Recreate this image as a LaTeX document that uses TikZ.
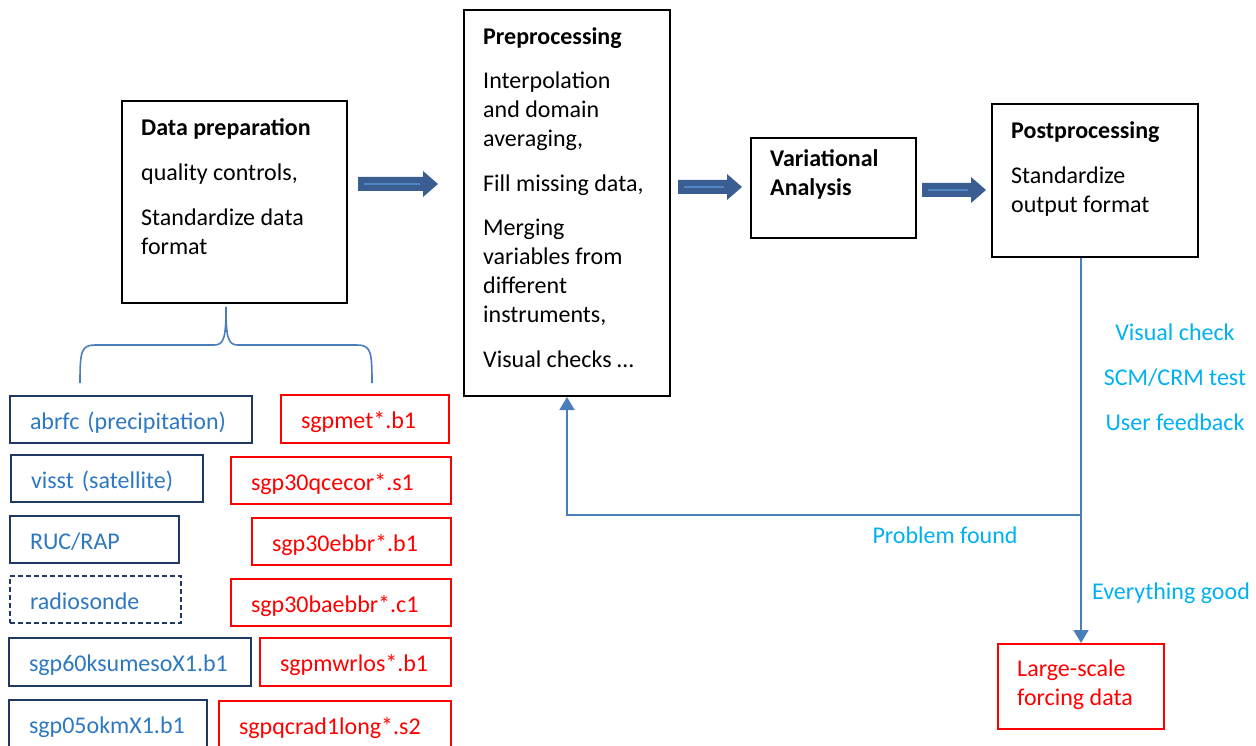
\documentclass[tikz,border=0pt]{standalone}
\usepackage{fontspec}
\setmainfont{Carlito}
\usetikzlibrary{arrows.meta,calc}
\definecolor{navy}{HTML}{203864}
\definecolor{txtblue}{HTML}{2E78C2}
\definecolor{lineblue}{HTML}{4A7EBB}
\definecolor{cyanlbl}{HTML}{00B0F0}
\definecolor{arrdark}{HTML}{3B5E92}
\definecolor{arrlight}{HTML}{5285C4}
\definecolor{myred}{HTML}{FF0000}
\newcommand{\blockarr}[3]{%
  \fill[arrdark] (#1,#3-7) -- (#2-15,#3-7) -- (#2-15,#3-13) -- (#2,#3) -- (#2-15,#3+13) -- (#2-15,#3+7) -- (#1,#3+7) -- cycle;
  \draw[arrlight, line width=2.5pt] (#1+6,#3) -- (#2-18,#3);
}
\begin{document}
\begin{tikzpicture}[x=1pt,y=-1pt,
  font=\fontsize{24}{29}\selectfont,
  mainbox/.style={draw=black, line width=2pt, anchor=north west, inner sep=0pt},
  srcbox/.style={draw=navy, line width=2pt, text=txtblue, anchor=north west, inner ysep=0pt, inner xsep=20pt, align=left, text height=20pt, text depth=1pt},
  armbox/.style={draw=myred, line width=2pt, text=myred, anchor=north west, inner ysep=0pt, inner xsep=20pt, align=left, text height=20pt, text depth=1pt},
  boxtext/.style={anchor=north west, inner sep=0pt, align=left},
  feed/.style={draw=lineblue, line width=1.6pt, -{Triangle[width=15pt,length=13pt]}},
  lbl/.style={text=cyanlbl, inner sep=0pt}]
\useasboundingbox (0,0) rectangle (1256,746);

% main boxes
\node[mainbox, minimum width=225pt, minimum height=202pt] (dp) at (121,100) {};
\node[boxtext] (dpt) at (141,118) {\textbf{Data preparation}\\[16pt]quality controls,\\[16pt]Standardize data\\format};

\node[mainbox, minimum width=206pt, minimum height=386pt] (pre) at (463,9) {};
\node[boxtext] (pret) at (483,27) {\textbf{Preprocessing}\\[15pt]Interpolation\\and domain\\averaging,\\[16pt]Fill missing data,\\[15pt]Merging\\variables from\\different\\instruments,\\[16pt]Visual checks …};

\node[mainbox, minimum width=165pt, minimum height=100pt] (var) at (750,137) {};
\node[boxtext] (vart) at (770,149) {\textbf{Variational}\\\textbf{Analysis}};

\node[mainbox, minimum width=206pt, minimum height=153pt] (post) at (991,103) {};
\node[boxtext] (postt) at (1011,121) {\textbf{Postprocessing}\\[16pt]Standardize\\output format};

\node[mainbox, draw=myred, minimum width=166pt, minimum height=85pt] (large) at (997,643) {};
\node[boxtext, text=myred] (larget) at (1017,660) {Large-scale\\forcing data};

% block arrows
\blockarr{358}{438}{184}
\blockarr{678}{742}{187}
\blockarr{922}{986}{190}

% brace
\draw[lineblue, line width=1.6pt] (80,383) .. controls (80,352) and (81,345) .. (95,345)
  -- (214,345) .. controls (224,345) and (226,338) .. (226,307)
  .. controls (226,338) and (228,345) .. (238,345) -- (357,345)
  .. controls (371,345) and (372,352) .. (372,383);

% source boxes (blue)
\node[srcbox, text width=202pt, minimum height=47pt] (abrfc) at (9,395) {abrfc (precipitation)};
\node[srcbox, text width=152pt, minimum height=47pt] (visst) at (10,454) {visst (satellite)};
\node[srcbox, text width=129pt, minimum height=47pt] (ruc) at (9,515) {RUC/RAP};
\node[srcbox, text width=131pt, minimum height=47pt, dash pattern=on 5pt off 3pt] (sonde) at (9,575) {radiosonde};
\node[srcbox, text width=202pt, minimum height=48pt] (meso) at (8,637) {sgp60ksumesoX1.b1};
\node[srcbox, text width=158pt, minimum height=47pt] (okm) at (8,699) {sgp05okmX1.b1};

% ARM boxes (red)
\node[armbox, text width=128pt, minimum height=48pt] (met) at (280,394) {sgpmet*.b1};
\node[armbox, text width=180pt, minimum height=47pt] (qcecor) at (230,456) {sgp30qcecor*.s1};
\node[armbox, text width=159pt, minimum height=47pt] (ebbr) at (251,517) {sgp30ebbr*.b1};
\node[armbox, text width=180pt, minimum height=47pt] (baebbr) at (230,578) {sgp30baebbr*.c1};
\node[armbox, text width=151pt, minimum height=48pt] (mwr) at (259,637) {sgpmwrlos*.b1};
\node[armbox, text width=192pt, minimum height=47pt] (qcrad) at (218,700) {sgpqcrad1long*.s2};

% feedback loop
\coordinate (fb) at (1080,515);
\draw[feed] (post.south -| large.north) -- (large.north);
\draw[feed] (fb) -| (pre.south);

% labels
\node[lbl, align=center] (checks) at (1175,377) {Visual check\\[16pt]SCM/CRM test\\[16pt]User feedback};
\node[lbl] (prob) at (945,535) {Problem found};
\node[lbl] (good) at (1171,593) {Everything good};
\end{tikzpicture}
\end{document}
